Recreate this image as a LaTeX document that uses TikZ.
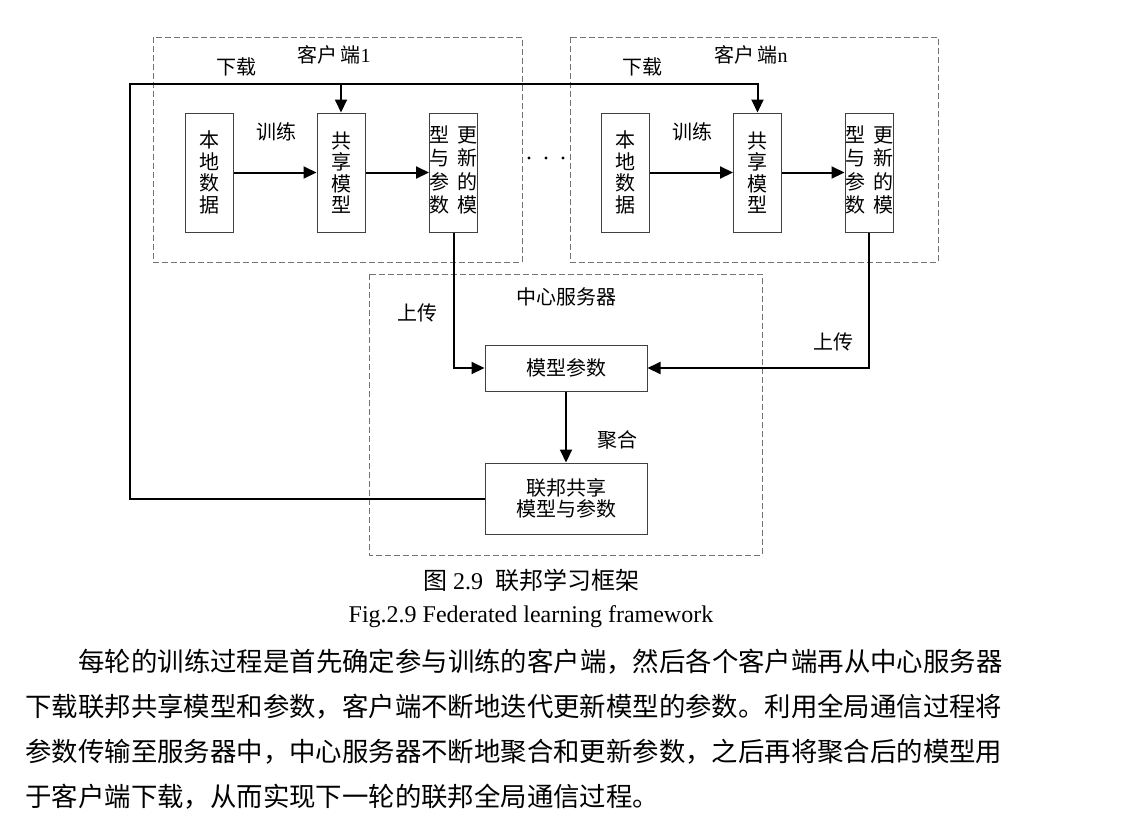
\documentclass[tikz,border=0pt]{standalone}
\usepackage{fontspec}
\setmainfont{Liberation Serif}
\newfontfamily\cjk{Noto Sans CJK SC}
\usetikzlibrary{arrows.meta}

\begin{document}
\begin{tikzpicture}[
    x=0.5pt, y=-0.5pt,
    >={Triangle[length=6.5pt, width=6pt]},
    box/.style={draw=black!75, line width=0.5pt, inner sep=0pt, align=center,
      font=\cjk\fontsize{10}{10.75}\selectfont},
    vbox/.style={box, minimum width=24pt, minimum height=59.5pt},
    wbox/.style={box, minimum width=81pt},
    frame/.style={draw=black!55, line width=0.5pt, dash pattern=on 3pt off 1.5pt},
    link/.style={line width=1pt},
    lbl/.style={inner sep=0pt, font=\cjk\fontsize{10}{12}\selectfont},
    txt/.style={inner sep=0pt, anchor=west, font=\cjk\fontsize{13.2}{16}\selectfont}
  ]
  \useasboundingbox (0,0) rectangle (1128,831);

  % ---- Client 1 ----
  \draw[frame] (153,37) rectangle (522,262);
  \node[lbl] (title1) at (334,55) {客户\,端{\rmfamily 1}};
  \node[lbl] (dl1) at (236,67) {下载};
  \node[lbl] (tr1) at (276,132) {训练};
  \node[vbox] (data1) at (209.5,172.5) {本\\地\\数\\据};
  \node[vbox] (share1) at (341,172.5) {共\\享\\模\\型};
  \node[vbox] (upd1) at (453.5,172.5)
    {\begin{tabular}{@{}c@{\hspace{4pt}}c@{}}型&更\\与&新\\参&的\\数&模\end{tabular}};

  % ---- Client n ----
  \draw[frame] (570,37) rectangle (938,262);
  \node[lbl] (titlen) at (751,55) {客户\,端{\rmfamily n}};
  \node[lbl] (dln) at (642,67) {下载};
  \node[lbl] (trn) at (692,132) {训练};
  \node[vbox] (datan) at (625.5,172.5) {本\\地\\数\\据};
  \node[vbox] (sharen) at (757.5,172.5) {共\\享\\模\\型};
  \node[vbox] (updn) at (869,172.5)
    {\begin{tabular}{@{}c@{\hspace{4pt}}c@{}}型&更\\与&新\\参&的\\数&模\end{tabular}};

  % dots between the clients
  \foreach \x in {529,546,563}
    \fill (\x,158) circle (0.8pt);

  % ---- Server ----
  \draw[frame] (369,274) rectangle (762,555);
  \node[lbl] (srv) at (566,297) {中心服务器};
  \node[wbox, minimum height=23pt] (param) at (566,368) {模型参数};
  \node[wbox, minimum height=35.5pt] (fed) at (566,498.5) {联邦共享\\模型与参数};
  \node[lbl] (up1) at (417,313) {上传};
  \node[lbl] (upn) at (833,342) {上传};
  \node[lbl] (agg) at (617,440) {聚合};

  % Arrows
  \draw[link, ->] (data1) -- (share1);
  \draw[link, ->] (share1) -- (upd1);
  \draw[link, ->] (datan) -- (sharen);
  \draw[link, ->] (sharen) -- (updn);
  \draw[link, ->] (upd1.south) |- (param.west);
  \draw[link, ->] (updn.south) |- (param.east);
  \draw[link, ->] (param) -- (fed);
  \coordinate (dtop) at (130,84);
  \draw[link, ->] (fed.west) -| (dtop) -| (sharen.north);
  \draw[link, ->] (share1.north |- dtop) -- (share1.north);

  % ---- Caption ----
  \node[inner sep=0pt, font=\fontsize{12}{14}\selectfont] (cap) at (531,580)
    {{\cjk 图} 2.9\ \ {\cjk 联邦学习框架}};
  \node[inner sep=0pt, font=\fontsize{12}{14}\selectfont] (capen) at (531,617)
    {Fig.2.9 Federated learning framework};

  % ---- Text ----
  \node[txt] (line1) at (78,662) {每轮的训练过程是首先确定参与训练的客户端，然后各个客户端再从中心服务器};
  \node[txt] (line2) at (25,707) {下载联邦共享模型和参数，客户端不断地迭代更新模型的参数。利用全局通信过程将};
  \node[txt] (line3) at (25,752) {参数传输至服务器中，中心服务器不断地聚合和更新参数，之后再将聚合后的模型用};
  \node[txt] (line4) at (25,797) {于客户端下载，从而实现下一轮的联邦全局通信过程。};
\end{tikzpicture}
\end{document}
